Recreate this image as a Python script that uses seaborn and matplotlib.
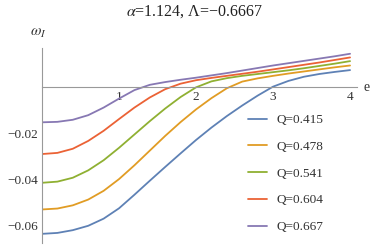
import numpy as np
import pandas as pd
import matplotlib
matplotlib.use("Agg")
import matplotlib.pyplot as plt
import seaborn as sns
from matplotlib.ticker import MultipleLocator

# values
e_vals = [0.0, 0.2, 0.4, 0.6, 0.8, 1.0, 1.2, 1.4, 1.6, 1.8, 2.0,
          2.2, 2.4, 2.6, 2.8, 3.0, 3.2, 3.4, 3.6, 3.8, 4.0]

q_labels = ["Q=0.415", "Q=0.478", "Q=0.541", "Q=0.604", "Q=0.667"]

w_q0415 = [-0.0638, -0.0634, -0.0622, -0.0603, -0.0572, -0.0527, -0.0468, -0.0407,
           -0.0347, -0.0288, -0.0230, -0.0176, -0.0126, -0.0080, -0.0037, 0.0002,
           0.0027, 0.0045, 0.0057, 0.0066, 0.0074]
w_q0478 = [-0.0532, -0.0528, -0.0514, -0.0489, -0.0451, -0.0400, -0.0340, -0.0276,
           -0.0212, -0.0152, -0.0097, -0.0048, -0.0005, 0.0024, 0.0038, 0.0049,
           0.0059, 0.0068, 0.0077, 0.0086, 0.0094]
w_q0541 = [-0.0416, -0.0411, -0.0394, -0.0362, -0.0318, -0.0264, -0.0206, -0.0148,
           -0.0093, -0.0043, -0.0001, 0.0025, 0.0039, 0.0049, 0.0057, 0.0065,
           0.0073, 0.0082, 0.0092, 0.0102, 0.0113]
w_q0604 = [-0.0291, -0.0286, -0.0268, -0.0234, -0.0190, -0.0139, -0.0089, -0.0045,
           -0.0009, 0.0015, 0.0030, 0.0040, 0.0049, 0.0058, 0.0067, 0.0077,
           0.0087, 0.0097, 0.0107, 0.0118, 0.0129]
w_q0667 = [-0.0153, -0.0151, -0.0142, -0.0122, -0.0089, -0.0050, -0.0013, 0.0010,
           0.0022, 0.0032, 0.0041, 0.0051, 0.0061, 0.0072, 0.0083, 0.0094,
           0.0104, 0.0114, 0.0124, 0.0134, 0.0145]

colors = ["#5E81B5", "#E19C24", "#8FB032", "#EB6235", "#8778B3"]

# long-form table for seaborn
series = [w_q0415, w_q0478, w_q0541, w_q0604, w_q0667]
rows = []
for lab, vals in zip(q_labels, series):
    for e, w in zip(e_vals, vals):
        rows.append({"e": e, "w": w, "Q": lab})
df = pd.DataFrame(rows)

sns.set_style("white")
plt.rcParams["font.family"] = ["Liberation Serif", "DejaVu Serif"]
plt.rcParams["mathtext.fontset"] = "stix"

fig = plt.figure(figsize=(3.74, 2.45), dpi=100)
ax = fig.add_axes([0.1123, 0.008, 0.8422, 0.796])

sns.lineplot(data=df, x="e", y="w", hue="Q", hue_order=q_labels,
             palette=colors, linewidth=1.3, ax=ax)

ax.set_xlim(0, 4.09)
ax.set_ylim(-0.0678, 0.017)

# Mathematica-style axes through the origin
for s in ["top", "right"]:
    ax.spines[s].set_visible(False)
ax.spines["left"].set_position(("data", 0))
ax.spines["bottom"].set_position(("data", 0))
for s in ["left", "bottom"]:
    ax.spines[s].set_color("#999999")
    ax.spines[s].set_linewidth(0.8)

ax.xaxis.set_major_locator(MultipleLocator(1))
ax.xaxis.set_minor_locator(MultipleLocator(0.2))
ax.yaxis.set_major_locator(MultipleLocator(0.02))
ax.yaxis.set_minor_locator(MultipleLocator(0.005))
ax.set_xticks([1, 2, 3, 4])
ax.set_xticklabels(["1", "2", "3", "4"])
ax.set_yticks([-0.06, -0.04, -0.02])
ax.set_yticklabels(["\u22120.06", "\u22120.04", "\u22120.02"])

ax.tick_params(which="both", direction="in", color="#999999", width=0.7,
               labelsize=9.5, labelcolor="#333333")
ax.tick_params(which="major", length=4)
ax.tick_params(which="minor", length=2.5)
ax.tick_params(axis="x", which="both", top=False, pad=3)
ax.tick_params(axis="y", which="both", right=False, pad=3)

ax.set_xlabel("")
ax.set_ylabel("")
fig.text(363 / 374, 1 - 87 / 245, "e", fontsize=10, color="#333333",
         ha="left", va="center")
fig.text(38 / 374, 1 - 33 / 245, r"$\omega_I$", fontsize=11, color="#333333",
         ha="center", va="center")
fig.text(195 / 374, 1 - 12 / 245, "$\\alpha$=1.124, \u039b=\u22120.6667",
         fontsize=11.5, color="#222222", ha="center", va="center")

ax.legend(loc="upper left", bbox_to_anchor=(248 / 374, 1 - 114 / 245),
          bbox_transform=fig.transFigure, frameon=False, fontsize=9.5,
          handlelength=1.45, handletextpad=0.7, labelspacing=1.1,
          borderpad=0, borderaxespad=0, labelcolor="#333333")

fig.savefig("out.png", dpi=100)
